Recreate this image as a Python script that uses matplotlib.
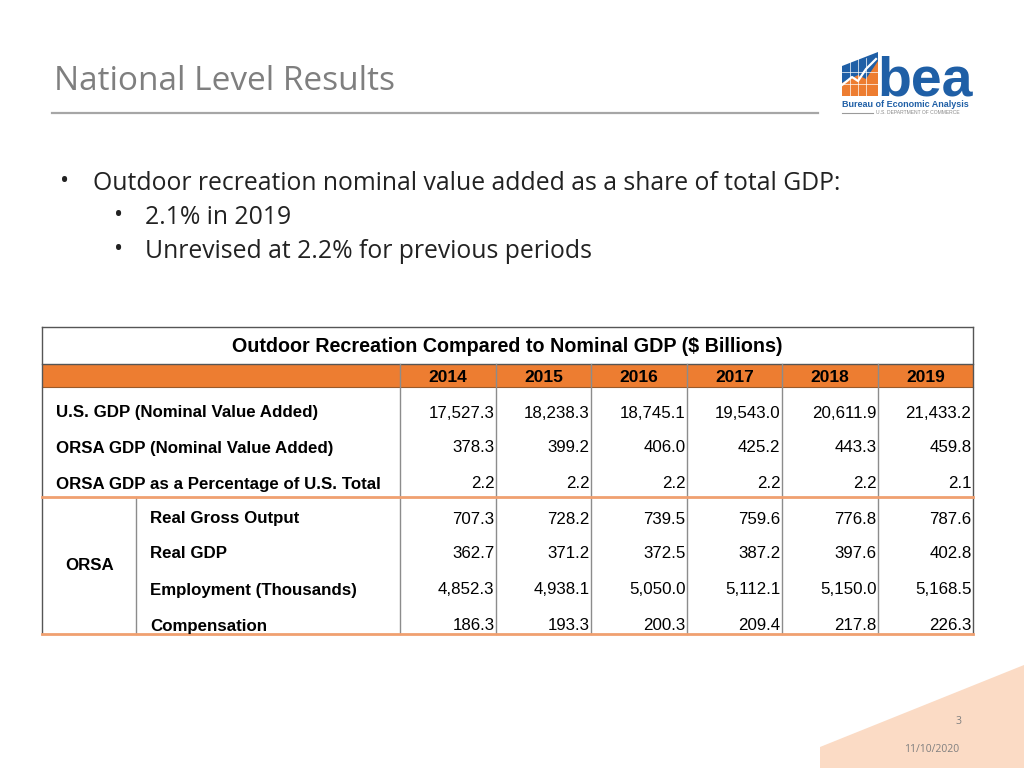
import matplotlib
matplotlib.use("Agg")
import matplotlib.pyplot as plt
from matplotlib.patches import Rectangle, Polygon

# ---------------- data ----------------
years = ["2014", "2015", "2016", "2017", "2018", "2019"]
us_gdp = [17527.3, 18238.3, 18745.1, 19543.0, 20611.9, 21433.2]
orsa_gdp = [378.3, 399.2, 406.0, 425.2, 443.3, 459.8]
orsa_pct = [2.2, 2.2, 2.2, 2.2, 2.2, 2.1]
real_gross_output = [707.3, 728.2, 739.5, 759.6, 776.8, 787.6]
real_gdp = [362.7, 371.2, 372.5, 387.2, 397.6, 402.8]
employment = [4852.3, 4938.1, 5050.0, 5112.1, 5150.0, 5168.5]
compensation = [186.3, 193.3, 200.3, 209.4, 217.8, 226.3]

top_labels = ["U.S. GDP (Nominal Value Added)", "ORSA GDP (Nominal Value Added)",
              "ORSA GDP as a Percentage of U.S. Total"]
top_series = [us_gdp, orsa_gdp, orsa_pct]
orsa_labels = ["Real Gross Output", "Real GDP", "Employment (Thousands)", "Compensation"]
orsa_series = [real_gross_output, real_gdp, employment, compensation]

slide_title = "National Level Results"
bullet_main = "Outdoor recreation nominal value added as a share of total GDP:"
bullet_subs = ["2.1% in 2019", "Unrevised at 2.2% for previous periods"]
table_title = "Outdoor Recreation Compared to Nominal GDP ($ Billions)"

# ---------------- figure ----------------
fig = plt.figure(figsize=(10.24, 7.68), dpi=100)
ax = fig.add_axes([0, 0, 1, 1])
ax.set_xlim(0, 1024)
ax.set_ylim(768, 0)
ax.axis("off")

GRAY = "#7F7F7F"
ORANGE = "#ED7D31"
BLUE = "#1F5FA6"
TFONT = "Liberation Sans"
SFONT = "Open Sans"
TFS = 12.2

# bottom-right decorative shape
ax.add_patch(Polygon([[820, 747], [1024, 665], [1024, 768], [820, 768]],
                     closed=True, facecolor="#FBDBC5", edgecolor="none", zorder=0))

# slide title
ax.text(54, 81, slide_title, fontsize=24, color=GRAY, family=SFONT, va="center", ha="left")
ax.plot([52, 818], [113, 113], color="#A6A6A6", lw=1.6)

# bullets
ax.text(60, 182, "•", fontsize=17.5, color="#222222", family=SFONT, va="center")
ax.text(93, 184, bullet_main, fontsize=17.8, color="#222222", family=SFONT, va="center")
for i, s in enumerate(bullet_subs):
    y = 217 + i * 34
    ax.text(114, y - 1, "•", fontsize=17.5, color="#222222", family=SFONT, va="center")
    ax.text(145, y, s, fontsize=17.8, color="#222222", family=SFONT, va="center")

# logo
lx = 842
ax.add_patch(Polygon([[lx, 66], [878, 52], [878, 96], [lx, 96]], closed=True,
                     facecolor=BLUE, edgecolor="none"))
ax.add_patch(Polygon([[lx, 96], [lx, 83], [858, 75], [866, 79], [878, 61], [878, 96]],
                     closed=True, facecolor=ORANGE, edgecolor="none"))
for gx in [850, 858, 866]:
    ax.plot([gx, gx], [58, 96], color="white", lw=0.5)
for gy in [72, 84]:
    ax.plot([lx, 878], [gy, gy], color="white", lw=0.5)
ax.plot([lx, 852, 858, 866, 876], [85, 77, 81, 69, 59], color="white", lw=1.6)
ax.text(877, 95, "bea", fontsize=40, fontweight="bold", color=BLUE, family="Liberation Sans",
        va="baseline", ha="left")
ax.text(842, 104.5, "Bureau of Economic Analysis", fontsize=6.5, fontweight="bold",
        color=BLUE, family="Liberation Sans", va="center", ha="left")
ax.plot([842, 873], [113, 113], color="#9A9A9A", lw=0.8)
ax.text(876, 113, "U.S. DEPARTMENT OF COMMERCE", fontsize=3.6, color="#8A8A8A",
        family="Liberation Sans", va="center", ha="left")

# ---------------- table ----------------
L, R = 42, 973
T = 327
title_bot = 364
hdr_bot = 387
mid = 497
B = 634
col_edges = [400, 496, 591, 687, 782, 878, 973]
LINE = "#555555"
GRID = "#8C8C8C"

ax.add_patch(Rectangle((L, title_bot), R - L, hdr_bot - title_bot, facecolor=ORANGE,
                       edgecolor="none", zorder=1))
ax.text((L + R) / 2, 347, table_title, fontsize=14.2, fontweight="bold", family=TFONT,
        ha="center", va="center", zorder=3)
for i, yr in enumerate(years):
    cx = (col_edges[i] + col_edges[i + 1]) / 2
    ax.text(cx, 377, yr, fontsize=12.5, fontweight="bold", family=TFONT,
            ha="center", va="center", zorder=3)

# borders
ax.plot([L, R], [T, T], color=LINE, lw=1.0, zorder=2)
ax.plot([L, R], [title_bot, title_bot], color=LINE, lw=1.0, zorder=2)
ax.plot([L, R], [hdr_bot, hdr_bot], color="#9A5A2A", lw=0.8, zorder=2)
ax.plot([L, L], [T, B], color=LINE, lw=1.0, zorder=2)
ax.plot([R, R], [T, B], color=LINE, lw=1.0, zorder=2)
for x in col_edges[:-1]:
    ax.plot([x, x], [title_bot, B], color=GRID, lw=1.0, zorder=2)
ax.plot([136, 136], [mid, B], color=GRID, lw=1.0, zorder=2)
ax.plot([L, R], [mid, mid], color="#F0A070", lw=2.0, zorder=2)
ax.plot([L, R], [B, B], color="#F0A070", lw=2.0, zorder=2)

def fmt(v):
    return f"{v:,.1f}"

top_rows_y = [413, 448, 484]
for y, lab, ser in zip(top_rows_y, top_labels, top_series):
    ax.text(56, y, lab, fontsize=TFS, fontweight="bold", family=TFONT, ha="left", va="center")
    for i, v in enumerate(ser):
        ax.text(col_edges[i + 1] - 1.5, y, fmt(v), fontsize=TFS, family=TFONT,
                ha="right", va="center")

orsa_rows_y = [519, 554, 590, 626]
for y, lab, ser in zip(orsa_rows_y, orsa_labels, orsa_series):
    ax.text(150, y, lab, fontsize=TFS, fontweight="bold", family=TFONT, ha="left", va="center")
    for i, v in enumerate(ser):
        ax.text(col_edges[i + 1] - 1.5, y, fmt(v), fontsize=TFS, family=TFONT,
                ha="right", va="center")
ax.text(90, 565, "ORSA", fontsize=TFS, fontweight="bold", family=TFONT, ha="center", va="center")

# footer
ax.text(958, 722, "3", fontsize=7.5, color=GRAY, family=SFONT, ha="center", va="center")
ax.text(932, 750, "11/10/2020", fontsize=7.5, color=GRAY, family=SFONT, ha="center", va="center")

fig.savefig("out.png", dpi=100)
